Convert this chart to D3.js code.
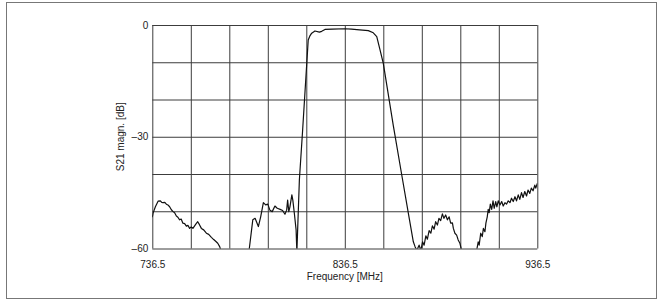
<!DOCTYPE html>
<html>
<head>
<meta charset="utf-8">
<script src="https://cdn.jsdelivr.net/npm/d3@7"></script>
<style>
  body { margin: 0; background: #fff; }
  text { font-family: "Liberation Sans", Arial, sans-serif; fill: #222; }
</style>
</head>
<body>
<script>
// frequency sweep [MHz] and S21 magnitude [dB] (values below -60 are clipped)
var freq = [
  736.5, 736.9, 738.1, 739.5, 740.7, 741.4, 742.1, 743.0, 743.8, 744.6,
  745.5, 746.4, 747.3, 748.1, 749.0, 749.8, 750.7, 751.5, 752.4, 753.3,
  754.2, 755.0, 755.9, 756.7, 757.6, 758.4, 759.2, 760.1, 761.0, 762.0,
  763.2, 764.6, 765.8, 767.2, 768.4, 769.7, 770.5, 771.5, 772.5, 773.5,
  786.0, 786.9, 788.7, 789.9, 791.6, 792.8, 794.2, 795.4, 796.5, 797.6,
  798.8, 800.2, 801.4, 802.9, 804.2, 805.4, 806.3, 806.8, 807.4, 808.0,
  809.0, 809.5, 810.3, 811.2, 811.6,
  812.9, 814.6, 817.5, 818.3, 819.3, 821.0, 823.3, 824.5, 826.2, 830.0,
  836.6, 840.0, 844.2, 848.7, 851.3, 853.1, 854.8, 856.5, 861.7, 866.0,
  870.0, 872.1, 873.0,
  873.9, 875.1, 876.0, 876.9, 877.7, 878.6, 879.4, 880.3, 881.2, 882.0,
  882.9, 883.7, 884.6, 885.4, 886.3, 887.2, 888.0, 888.9, 889.8, 890.7,
  891.5, 892.4, 892.9, 893.7, 894.6, 895.4, 896.3, 897.2, 898.0,
  904.5, 905.0, 905.8, 906.3, 907.1, 907.9, 908.5, 909.3, 909.8, 910.5,
  911.0, 911.5, 912.1, 912.8, 913.5, 914.1, 914.9, 915.5, 916.2, 917.1,
  918.0, 918.8, 919.7, 920.5, 921.4, 922.3, 923.1, 924.0, 924.9, 925.7,
  926.6, 927.4, 928.3, 929.1, 930.0, 930.9, 931.7, 932.6, 933.4, 934.3,
  935.2, 935.7, 936.5
];
var s21 = [
  -51.6, -50.5, -48.8, -47.3, -47.2, -47.6, -47.7, -47.6, -48.1, -48.3,
  -48.8, -49.6, -50.1, -50.4, -51.3, -51.6, -52.3, -52.1, -53.2, -53.3,
  -54.0, -53.8, -54.6, -54.2, -54.6, -54.0, -53.4, -52.8, -53.6, -54.6,
  -55.0, -55.9, -56.2, -57.0, -57.6, -58.2, -58.6, -59.5, -61, -65,
  -65, -60, -52.3, -51.9, -54.1, -51.5, -47.7, -48.3, -48.1, -49.7,
  -50.1, -48.6, -49.2, -49.5, -49.8, -50.8, -49.7, -47.0, -50.1, -48.8,
  -45.6, -47.0, -50.6, -55.0, -61,
  -41.6, -28.2, -4.0, -3.0, -2.2, -1.6, -1.9, -1.7, -1.2, -1.1,
  -1.0, -1.1, -1.3, -1.5, -2.1, -3.1, -6.7, -10.3, -27.0, -40.0,
  -52.0, -58.2, -59.5,
  -60.5, -59.1, -60.5, -58.2, -59.1, -56.6, -57.5, -55.2, -55.9, -53.9,
  -54.8, -52.8, -53.7, -51.9, -52.5, -50.7, -51.9, -51.0, -52.3, -51.5,
  -53.2, -53.1, -54.6, -55.9, -56.4, -57.7, -58.6, -60.5, -65,
  -65, -60.5, -58.2, -59.1, -55.9, -56.8, -54.6, -55.5, -53.2, -51.5,
  -49.5, -50.4, -48.1, -49.5, -47.2, -49.2, -47.4, -48.8, -47.2, -48.3,
  -47.4, -48.6, -47.7, -48.1, -47.2, -47.7, -46.5, -47.4, -46.1, -47.2,
  -45.6, -46.8, -45.0, -46.3, -44.7, -45.9, -44.3, -45.2, -43.8, -44.5,
  -43.0, -43.8, -42.5
];

// grid and tick labels
var xGrid = d3.range(736.5, 936.6, 20);
var yGrid = d3.range(-60, 0.1, 10);
var xLabels = [736.5, 836.5, 936.5];
var yLabels = [0, -30, -60];

var W = 662, H = 302;
var plotL = 152.3, plotR = 537.3, plotT = 25, plotB = 248.5;

var svg = d3.select("body").append("svg")
    .attr("width", W)
    .attr("height", H);

// outer frame
svg.append("rect")
    .attr("x", 6.5).attr("y", 2.5)
    .attr("width", 650).attr("height", 296)
    .attr("fill", "none")
    .attr("stroke", "#777")
    .attr("stroke-width", 1);

var x = d3.scaleLinear().domain([736.5, 936.5]).range([plotL, plotR]);
var y = d3.scaleLinear().domain([-60, 0]).range([plotB, plotT]);

// vertical grid lines
svg.append("g")
    .attr("transform", "translate(0," + plotB + ")")
    .call(d3.axisBottom(x).tickValues(xGrid).tickSize(-(plotB - plotT)).tickFormat(""))
    .call(function(g) { g.select(".domain").remove(); })
    .selectAll("line").attr("stroke", "#3c3c3c").attr("stroke-width", 1);

// horizontal grid lines
svg.append("g")
    .attr("transform", "translate(" + plotL + ",0)")
    .call(d3.axisLeft(y).tickValues(yGrid).tickSize(-(plotR - plotL)).tickFormat(""))
    .call(function(g) { g.select(".domain").remove(); })
    .selectAll("line").attr("stroke", "#3c3c3c").attr("stroke-width", 1);

// tick labels
var xAxis = svg.append("g")
    .attr("transform", "translate(0," + plotB + ")")
    .call(d3.axisBottom(x).tickValues(xLabels).tickSize(0).tickPadding(12).tickFormat(d3.format(".1f")));
xAxis.select(".domain").remove();
xAxis.selectAll("text").attr("font-size", 10).attr("fill", "#222")
    .attr("font-family", "Liberation Sans, Arial, sans-serif");

var yAxis = svg.append("g")
    .attr("transform", "translate(" + plotL + ",0)")
    .call(d3.axisLeft(y).tickValues(yLabels).tickSize(0).tickPadding(4)
        .tickFormat(function(d) { return d < 0 ? "\u2013" + Math.abs(d) : d; }));
yAxis.select(".domain").remove();
yAxis.selectAll("text").attr("font-size", 10).attr("fill", "#222")
    .attr("font-family", "Liberation Sans, Arial, sans-serif");

// axis titles
svg.append("text")
    .attr("x", (plotL + plotR) / 2)
    .attr("y", 280)
    .attr("text-anchor", "middle")
    .attr("font-size", 10)
    .text("Frequency [MHz]");

svg.append("text")
    .attr("transform", "translate(124," + ((plotT + plotB) / 2) + ") rotate(-90)")
    .attr("text-anchor", "middle")
    .attr("font-size", 10)
    .text("S21 magn. [dB]");

// clip the trace to the plot area
svg.append("clipPath").attr("id", "plot")
    .append("rect")
    .attr("x", plotL).attr("y", plotT - 1)
    .attr("width", plotR - plotL).attr("height", plotB - plotT + 1);

var line = d3.line()
    .x(function(d, i) { return x(freq[i]); })
    .y(function(d) { return y(d); });

svg.append("path")
    .datum(s21)
    .attr("clip-path", "url(#plot)")
    .attr("d", line)
    .attr("fill", "none")
    .attr("stroke", "#111")
    .attr("stroke-width", 1.2)
    .attr("stroke-linejoin", "round");
</script>
</body>
</html>
